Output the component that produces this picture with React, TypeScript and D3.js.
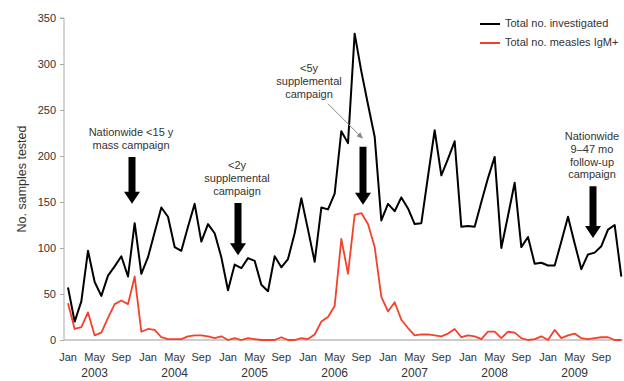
import React, {useEffect, useRef} from "react";
import {axisLeft, line, range, scaleLinear, select} from "d3";

// monthly counts, Jan 2003 .. Dec 2009
const investigated = [
    57, 20, 42, 97, 63, 48, 70, 80, 91, 69, 127, 72,
    90, 117, 144, 134, 101, 97, 123, 148, 107, 126, 116, 90,
    54, 82, 78, 89, 86, 60, 53, 91, 79, 88, 116, 154,
    120, 85, 144, 142, 159, 227, 214, 333, 292, 256, 221, 130,
    148, 140, 155, 143, 126, 127, 178, 228, 179, 197, 216, 123,
    124, 123, 150, 176, 199, 100, 135, 171, 101, 112, 83, 84,
    81, 81, 107, 134, 105, 77, 93, 95, 102, 120, 125, 69
];

const igmPositive = [
    40, 12, 14, 30, 5, 8, 24, 39, 43, 39, 69, 9,
    12, 11, 3, 1, 1, 1, 4, 5, 5, 4, 2, 4,
    0, 2, 0, 2, 1, 0, 0, 0, 3, 0, 0, 2,
    1, 6, 20, 25, 37, 110, 72, 136, 138, 126, 101, 47,
    31, 41, 22, 13, 5, 6, 6, 5, 4, 7, 12, 3,
    5, 4, 1, 9, 9, 2, 9, 8, 2, 0, 1, 4,
    0, 11, 2, 5, 7, 2, 1, 2, 3, 3, 0, 0
];

const years = ["2003", "2004", "2005", "2006", "2007", "2008", "2009"];
const monthLabels = ["Jan", "May", "Sep"];
const yTicks = [0, 50, 100, 150, 200, 250, 300, 350];

const seriesNames = ["Total no. investigated", "Total no. measles IgM+"];

// campaign notes: month index of arrow, arrow top/tip in data units, text lines
const campaigns = [
    {month: 9.6, top: 199, tip: 148, lines: ["Nationwide <15 y", "mass campaign"]},
    {month: 25.5, top: 149, tip: 92, lines: ["<2y", "supplemental", "campaign"]},
    {month: 44.25, top: 210, tip: 147, lines: ["<5y", "supplemental", "campaign"], offset: true},
    {month: 78.75, top: 167, tip: 111, lines: ["Nationwide", "9\u201347 mo", "follow-up", "campaign"]},
];

const W = 624;
const H = 381;
const FONT = "'Liberation Sans', Arial, sans-serif";
const TEXT = "#333";

function App() {
    const svgRef = useRef();

    useEffect(() => {
        const svg = select(svgRef.current);
        svg.selectAll("*").remove();

        const x = scaleLinear().domain([0, 72]).range([68, 548]);
        const y = scaleLinear().domain([0, 350]).range([340, 18]);

        // axes
        const yAxis = svg.append("g")
            .attr("transform", "translate(64,0)")
            .call(axisLeft(y).tickValues(yTicks).tickSize(4).tickPadding(4));
        yAxis.select(".domain").attr("stroke", "#aaa").attr("d", `M-4,${y(350)}H0V${y(0)}`);
        yAxis.selectAll(".tick line").attr("stroke", "#aaa");
        yAxis.selectAll(".tick text")
            .attr("fill", TEXT).style("font-family", FONT).style("font-size", "11px");

        svg.append("line")
            .attr("x1", 64).attr("x2", 623)
            .attr("y1", y(0)).attr("y2", y(0))
            .attr("stroke", "#bbb").attr("stroke-width", 1.5);

        svg.append("text")
            .attr("transform", `translate(23,${(y(350) + y(0)) / 2}) rotate(-90)`)
            .attr("text-anchor", "middle")
            .attr("dominant-baseline", "middle")
            .attr("fill", TEXT)
            .style("font-family", FONT).style("font-size", "12.5px")
            .text("No. samples tested");

        // month labels every 4 months
        const labelMonths = range(0, investigated.length, 4);
        svg.append("g").selectAll("text")
            .data(labelMonths)
            .join("text")
            .attr("x", d => x(d))
            .attr("y", 361)
            .attr("text-anchor", "middle")
            .attr("fill", TEXT)
            .style("font-family", FONT).style("font-size", "11px")
            .text(d => monthLabels[(d % 12) / 4]);

        svg.append("g").selectAll("text")
            .data(years)
            .join("text")
            .attr("x", (d, i) => x(i * 12 + 4))
            .attr("y", 377)
            .attr("text-anchor", "middle")
            .attr("fill", TEXT)
            .style("font-family", FONT).style("font-size", "12px")
            .text(d => d);

        // lines
        const lineGen = line().x((d, i) => x(i)).y(d => y(d));
        svg.append("path")
            .attr("d", lineGen(igmPositive))
            .attr("fill", "none")
            .attr("stroke", "#f5402a")
            .attr("stroke-width", 1.8)
            .attr("stroke-linejoin", "round");
        svg.append("path")
            .attr("d", lineGen(investigated))
            .attr("fill", "none")
            .attr("stroke", "#000")
            .attr("stroke-width", 2)
            .attr("stroke-linejoin", "round");

        // campaign arrows + notes
        campaigns.forEach(c => {
            const cx = x(c.month);
            const top = y(c.top);
            const tip = y(c.tip);
            const headStart = tip - 12;
            svg.append("path")
                .attr("d", `M${cx - 3.5},${top}H${cx + 3.5}V${headStart}H${cx + 8}L${cx},${tip}L${cx - 8},${headStart}H${cx - 3.5}Z`)
                .attr("fill", "#000");

            const tx = c.offset ? cx - 54 : cx - 1;
            const lastY = c.offset ? top - 52 : top - 11;
            const n = c.lines.length;
            c.lines.forEach((t, i) => {
                svg.append("text")
                    .attr("x", tx)
                    .attr("y", lastY - (n - 1 - i) * 12.7)
                    .attr("text-anchor", "middle")
                    .attr("dominant-baseline", "middle")
                    .attr("fill", TEXT)
                    .style("font-family", FONT).style("font-size", "11px")
                    .text(t);
            });

            if (c.offset) {
                // thin grey pointer from note to arrow
                const x1 = tx + 19, y1 = lastY + 9, x2 = cx, y2 = top - 8;
                const ang = Math.atan2(y2 - y1, x2 - x1);
                svg.append("line")
                    .attr("x1", x1).attr("y1", y1)
                    .attr("x2", x2 - 5 * Math.cos(ang)).attr("y2", y2 - 5 * Math.sin(ang))
                    .attr("stroke", "#888").attr("stroke-width", 1);
                const hx = x2, hy = y2;
                const p1 = [hx - 7 * Math.cos(ang - 0.4), hy - 7 * Math.sin(ang - 0.4)];
                const p2 = [hx - 7 * Math.cos(ang + 0.4), hy - 7 * Math.sin(ang + 0.4)];
                svg.append("path")
                    .attr("d", `M${hx},${hy}L${p1[0]},${p1[1]}L${p2[0]},${p2[1]}Z`)
                    .attr("fill", "#888");
            }
        });

        // legend
        const legend = svg.append("g").attr("transform", "translate(480,24)");
        const colors = ["#000", "#f5402a"];
        seriesNames.forEach((name, i) => {
            legend.append("line")
                .attr("x1", 0).attr("x2", 20)
                .attr("y1", i * 19).attr("y2", i * 19)
                .attr("stroke", colors[i]).attr("stroke-width", 2);
            legend.append("text")
                .attr("x", 25).attr("y", i * 19)
                .attr("dominant-baseline", "middle")
                .attr("fill", TEXT)
                .style("font-family", FONT).style("font-size", "11px")
                .text(name);
        });
    }, []);

    return (
        <svg ref={svgRef} width={W} height={H}
             style={{position: "absolute", left: 0, top: 0, background: "#fff"}}/>
    );
}

export default App;
